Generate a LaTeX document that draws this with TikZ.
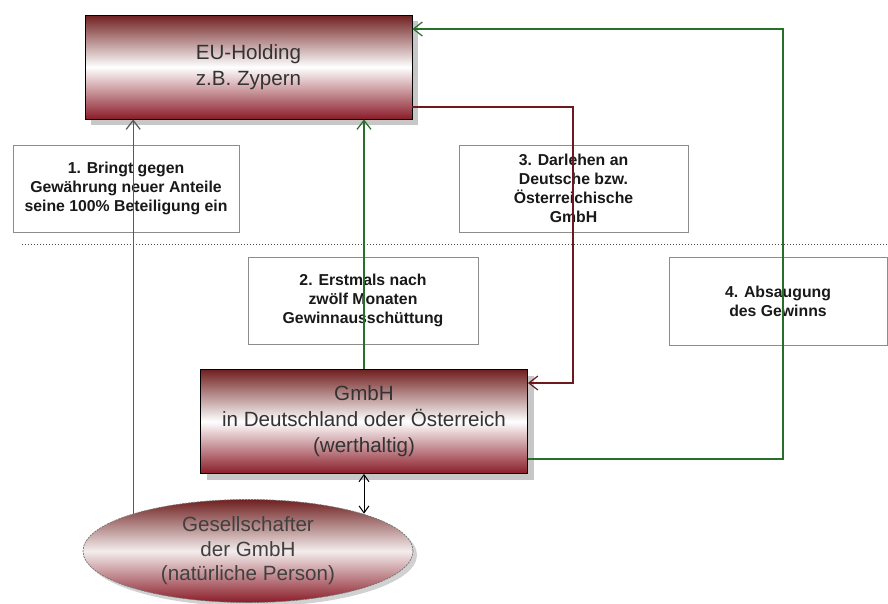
\documentclass[tikz,border=0pt]{standalone}
\usepackage{fontspec}
\setmainfont{Liberation Sans}
\usetikzlibrary{arrows.meta,shadows,shapes.geometric}
\definecolor{maroonT}{RGB}{112,32,32}
\definecolor{maroonB}{RGB}{138,28,40}
\definecolor{gline}{RGB}{40,110,45}
\definecolor{rline}{RGB}{110,25,30}
\begin{document}
\begin{tikzpicture}[x=1pt,y=-1pt,
  entity/.style={rectangle, draw=black, line width=0.8pt,
    top color=maroonT, bottom color=maroonB, middle color=white,
    minimum width=327pt, minimum height=104pt, inner sep=0pt, align=center,
    text=black!80, font=\fontsize{20.6}{26}\selectfont,
    drop shadow={shadow xshift=6pt,shadow yshift=-6pt,fill=black!22,opacity=1}},
  person/.style={ellipse, draw=black!55, line width=0.7pt, dash pattern=on 2pt off 1pt,
    top color=maroonT, bottom color=maroonB, middle color=white!92!maroonT,
    minimum width=330pt, minimum height=103pt, inner sep=0pt, align=center,
    text=black!75, font=\fontsize{20.6}{24.5}\selectfont,
    drop shadow={shadow xshift=4pt,shadow yshift=-4pt,fill=black!18,opacity=1}},
  lbl/.style={rectangle, draw=black!45, line width=0.8pt, align=center,
    inner sep=0pt, text=black!90, font=\bfseries\fontsize{15.8}{19}\selectfont},
  arr/.style={-{Straight Barb[length=9pt,width=14pt,line width=1.2pt]}},
  darr/.style={{Straight Barb[length=7pt,width=10pt]}-{Straight Barb[length=7pt,width=10pt]}},
]
\useasboundingbox[fill=white] (0,0) rectangle (888,603);

% label boxes
\node[lbl, minimum width=226pt, minimum height=87pt] (l1) at (126,188.5)
  {1. Bringt gegen\\Gewährung neuer Anteile\\seine 100\% Beteiligung ein};
\node[lbl, minimum width=230pt, minimum height=87pt] (l2) at (363,300.5)
  {2. Erstmals nach\\zwölf Monaten\\Gewinnausschüttung};
\node[lbl, minimum width=229pt, minimum height=87pt] (l3) at (573.5,188.5)
  {3. Darlehen an\\Deutsche bzw.\\Österreichische\\GmbH};
\node[lbl, minimum width=218pt, minimum height=88pt] (l4) at (778,301)
  {4. Absaugung\\des Gewinns};

% separator
\coordinate (sepA) at (22,244);
\coordinate (sepB) at (888,244);
\draw[dotted, line width=1pt, black!70] (sepA) -- (sepB);

% main entities
\node[entity] (eu) at (248.5,67) {EU-Holding\\z.B. Zypern};
\node[entity] (gmbh) at (364,421.5) {GmbH\\in Deutschland oder Österreich\\(werthaltig)};
\node[person] (pers) at (248,551) {Gesellschafter\\der GmbH\\(natürliche Person)};

% connectors
\coordinate (r3) at (573,300);
\coordinate (g4) at (783,200);
\draw[arr, black!65, line width=1pt] (pers.162) -- (pers.162 |- eu.south);
\draw[arr, gline, line width=1.3pt] (gmbh.north) -- (gmbh.north |- eu.south);
\draw[arr, rline, line width=1.3pt] ([yshift=-40pt]eu.east) -| (r3) |- ([yshift=38.5pt]gmbh.east);
\draw[arr, gline, line width=1.3pt] ([yshift=-37.5pt]gmbh.east) -| (g4) |- ([yshift=38pt]eu.east);
\draw[darr, black, line width=1pt] (gmbh.south) -- (gmbh.south |- pers.18);
\end{tikzpicture}
\end{document}
